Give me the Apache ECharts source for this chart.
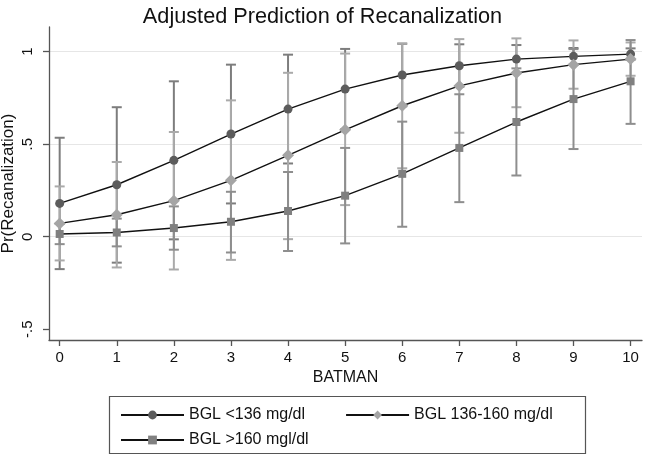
<!DOCTYPE html>
<html>
<head>
<meta charset="utf-8">
<script src="https://cdn.jsdelivr.net/npm/echarts@6/dist/echarts.min.js"></script>
<style>html,body{margin:0;padding:0;background:#fff}#c{width:645px;height:456px}</style>
</head>
<body>
<div id="c"></div>
<script>
const batman = [0,1,2,3,4,5,6,7,8,9,10];
const xTicks = [0,1,2,3,4,5,6,7,8,9,10];
const yTicks = [-0.5, 0, 0.5, 1];
const yTickLabels = ['-.5', '0', '.5', '1'];
const gridValues = [0, 0.5, 1];

const names = ['BGL <136 mg/dl', 'BGL 136-160 mg/dl', 'BGL >160 mgl/dl'];

const pLow  = [0.18, 0.281, 0.413, 0.555, 0.69, 0.798, 0.874, 0.924, 0.96, 0.975, 0.987];
const loLow = [-0.175, -0.14, -0.014, 0.18, 0.396, 0.58, 0.705, 0.81, 0.884, 0.93, 0.957];
const hiLow = [0.535, 0.70, 0.84, 0.93, 0.984, 1.015, 1.043, 1.04, 1.036, 1.02, 1.018];

const pMid  = [0.072, 0.119, 0.195, 0.305, 0.44, 0.578, 0.708, 0.815, 0.885, 0.93, 0.96];
const loMid = [-0.128, -0.166, -0.177, -0.125, -0.013, 0.171, 0.37, 0.562, 0.70, 0.80, 0.87];
const hiMid = [0.272, 0.404, 0.566, 0.737, 0.886, 0.99, 1.045, 1.068, 1.072, 1.061, 1.05];

const pHigh  = [0.015, 0.023, 0.047, 0.081, 0.139, 0.222, 0.34, 0.48, 0.62, 0.744, 0.84];
const loHigh = [-0.04, -0.052, -0.07, -0.085, -0.077, -0.036, 0.054, 0.187, 0.331, 0.474, 0.61];
const hiHigh = [0.07, 0.098, 0.164, 0.243, 0.35, 0.48, 0.622, 0.77, 0.91, 1.014, 1.063];

const FONT = '"Liberation Sans", Arial, Helvetica, sans-serif';

function ciSeries(lo, hi, color) {
  return {
    type: 'custom',
    z: 1,
    silent: true,
    data: batman.map((x, i) => [x, lo[i], hi[i]]),
    encode: { x: 0, y: [1, 2] },
    renderItem: function (params, api) {
      const x = api.value(0);
      const a = api.coord([x, api.value(1)]);
      const b = api.coord([x, api.value(2)]);
      const hw = 5;
      const st = { stroke: color, lineWidth: 2 };
      return {
        type: 'group',
        children: [
          { type: 'line', shape: { x1: a[0], y1: a[1], x2: b[0], y2: b[1] }, style: st },
          { type: 'line', shape: { x1: a[0] - hw, y1: a[1], x2: a[0] + hw, y2: a[1] }, style: st },
          { type: 'line', shape: { x1: b[0] - hw, y1: b[1], x2: b[0] + hw, y2: b[1] }, style: st }
        ]
      };
    }
  };
}

function lineSeries(name, vals, symbol, size, color, extra) {
  return Object.assign({
    type: 'line',
    name: name,
    z: 3,
    data: batman.map((x, i) => [x, vals[i]]),
    symbol: symbol,
    symbolSize: size,
    showAllSymbol: true,
    itemStyle: { color: color, borderWidth: 0 },
    lineStyle: { color: '#111', width: 1.4 },
    emphasis: { disabled: true },
    animation: false
  }, extra || {});
}

const chart = echarts.init(document.getElementById('c'), null, { renderer: 'canvas' });
chart.setOption({
  animation: false,
  backgroundColor: '#fff',
  title: {
    text: 'Adjusted Prediction of Recanalization',
    left: 'center',
    top: 1,
    textStyle: { fontFamily: FONT, fontSize: 21.7, fontWeight: 'normal', color: '#111' }
  },
  grid: { left: 49, right: 3, top: 27, bottom: 116, containLabel: false, outerBoundsMode: 'none' },
  xAxis: {
    type: 'value',
    min: -0.187,
    max: 10.2,
    name: 'BATMAN',
    nameLocation: 'middle',
    nameGap: 30,
    nameMoveOverlap: false,
    nameTextStyle: { fontFamily: FONT, fontSize: 16, color: '#111' },
    axisLine: { show: true, onZero: false, lineStyle: { color: '#555', width: 1.3 } },
    axisTick: { show: true, customValues: xTicks, length: 6, lineStyle: { color: '#555', width: 1.3 } },
    axisLabel: { customValues: xTicks, margin: 10, fontFamily: FONT, fontSize: 15, color: '#111' },
    splitLine: { show: false }
  },
  yAxis: {
    type: 'value',
    min: -0.558,
    max: 1.1335,
    name: 'Pr(Recanalization)',
    nameLocation: 'middle',
    nameRotate: 90,
    nameGap: 32,
    nameMoveOverlap: false,
    nameTextStyle: { fontFamily: FONT, fontSize: 17, color: '#111' },
    axisLine: { show: true, onZero: false, lineStyle: { color: '#555', width: 1.3 } },
    axisTick: { show: true, customValues: yTicks, length: 6, lineStyle: { color: '#555', width: 1.3 } },
    axisLabel: {
      customValues: yTicks,
      rotate: 90,
      margin: 14,
      fontFamily: FONT, fontSize: 15, color: '#111',
      formatter: function (v) {
        const i = yTicks.findIndex(t => Math.abs(t - v) < 1e-9);
        return i >= 0 ? yTickLabels[i] : '';
      }
    },
    splitLine: { show: false }
  },
  legend: [
    {
      data: [names[0], names[1]],
      left: 115, top: 402,
      itemWidth: 63, itemHeight: 11, itemGap: 40,
      selectedMode: false,
      textStyle: { fontFamily: FONT, fontSize: 16, color: '#111' }
    },
    {
      data: [names[2]],
      left: 115, top: 427,
      itemWidth: 63, itemHeight: 11,
      selectedMode: false,
      textStyle: { fontFamily: FONT, fontSize: 16, color: '#111' }
    }
  ],
  graphic: [
    { type: 'rect', left: 107, top: 394, shape: { width: 476, height: 57 }, style: { fill: 'none', stroke: '#555', lineWidth: 1.2 }, silent: true }
  ],
  series: [
    ciSeries(loLow, hiLow, '#7d7d7d'),
    ciSeries(loMid, hiMid, '#aaaaaa'),
    ciSeries(loHigh, hiHigh, '#8e8e8e'),
    lineSeries(names[0], pLow, 'circle', 9, '#5c5c5c', {
      markLine: {
        silent: true, symbol: 'none', label: { show: false },
        lineStyle: { color: '#e6e6e6', width: 1, type: 'solid' },
        emphasis: { disabled: true },
        z: 0,
        data: gridValues.map(v => ({ yAxis: v }))
      }
    }),
    lineSeries(names[1], pMid, 'diamond', 12, '#a5a5a5'),
    lineSeries(names[2], pHigh, 'rect', 8, '#808080')
  ]
});
</script>
</body>
</html>
